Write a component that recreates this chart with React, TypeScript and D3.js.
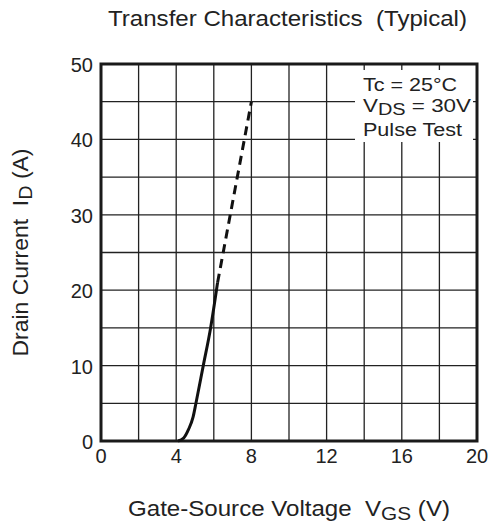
import React from "react";
import * as d3 from "d3";

const xTicks = [0, 4, 8, 12, 16, 20];
const yTicks = [0, 10, 20, 30, 40, 50];
const xGrid = [0, 2, 4, 6, 8, 10, 12, 14, 16, 18, 20];
const yGrid = [0, 5, 10, 15, 20, 25, 30, 35, 40, 45, 50];

const solidVgs = [4.1, 4.4, 4.65, 4.9, 5.05, 5.44, 5.83, 6.2];
const solidId = [0, 0.4, 1.5, 3.2, 5, 10, 15, 21];
const dashVgs = [6.2, 8.0];
const dashId = [21, 45];

const legendLines = ["Tc = 25°C", "VDS = 30V", "Pulse Test"];

const W = 489;
const H = 526;
const FONT = "'Liberation Sans', Arial, Helvetica, sans-serif";
const INK = "#222";

export default function App() {
  const x = d3.scaleLinear().domain([0, 20]).range([101, 477]);
  const y = d3.scaleLinear().domain([0, 50]).range([441, 64]);
  const line = d3
    .line<[number, number]>()
    .x((d) => x(d[0]))
    .y((d) => y(d[1]))
    .curve(d3.curveMonotoneX);
  const solid = solidVgs.map((v, i) => [v, solidId[i]] as [number, number]);
  const dashed = dashVgs.map((v, i) => [v, dashId[i]] as [number, number]);
  const lineStraight = d3
    .line<[number, number]>()
    .x((d) => x(d[0]))
    .y((d) => y(d[1]));

  return (
    <svg
      width={W}
      height={H}
      style={{ position: "absolute", left: 0, top: 0, background: "#fff" }}
      fontFamily={FONT}
    >
      <rect x={0} y={0} width={W} height={H} fill="#fff" />
      <text
        x={108}
        y={26}
        fontSize={22}
        fill={INK}
        textLength={359}
        lengthAdjust="spacingAndGlyphs"
        style={{ whiteSpace: "pre" }}
      >
        {"Transfer Characteristics  (Typical)"}
      </text>
      {xGrid.map((v) => (
        <line key={"gx" + v} x1={x(v)} x2={x(v)} y1={y(0)} y2={y(50)} stroke="#222" strokeWidth={1.3} />
      ))}
      {yGrid.map((v) => (
        <line key={"gy" + v} x1={x(0)} x2={x(20)} y1={y(v)} y2={y(v)} stroke="#222" strokeWidth={1.3} />
      ))}
      <rect x={355} y={70} width={118} height={72} fill="#fff" />
      <text x={363} y={91} fontSize={18} fill={INK} textLength={94} lengthAdjust="spacingAndGlyphs">
        {legendLines[0]}
      </text>
      <text x={363} y={112} fontSize={18} fill={INK} textLength={108} lengthAdjust="spacingAndGlyphs">
        V<tspan fontSize={16} dy={3}>DS</tspan>
        <tspan dy={-3}> = 30V</tspan>
      </text>
      <text x={363} y={136} fontSize={18} fill={INK} textLength={99} lengthAdjust="spacingAndGlyphs">
        {legendLines[2]}
      </text>
      <rect
        x={x(0)}
        y={y(50)}
        width={x(20) - x(0)}
        height={y(0) - y(50)}
        fill="none"
        stroke="#1a1a1a"
        strokeWidth={3}
      />
      <path d={line(solid) || ""} fill="none" stroke="#111" strokeWidth={3} />
      <path d={lineStraight(dashed) || ""} fill="none" stroke="#111" strokeWidth={3} strokeDasharray="9,6" />
      {yTicks.map((v) => (
        <text key={"yt" + v} x={93} y={y(v) + 8} textAnchor="end" fontSize={20} fill={INK}>
          {v}
        </text>
      ))}
      {xTicks.map((v) => (
        <text key={"xt" + v} x={x(v)} y={463} textAnchor="middle" fontSize={20} fill={INK}>
          {v}
        </text>
      ))}
      <text
        x={128}
        y={516}
        fontSize={22}
        fill={INK}
        textLength={322}
        lengthAdjust="spacingAndGlyphs"
        style={{ whiteSpace: "pre" }}
      >
        {"Gate-Source Voltage  V"}
        <tspan fontSize={19} dy={4}>GS</tspan>
        <tspan dy={-4}>{" (V)"}</tspan>
      </text>
      <g transform={`translate(28,${(y(0) + y(50)) / 2 + 104}) rotate(-90)`}>
        <text
          x={0}
          y={0}
          fontSize={22}
          fill={INK}
          textLength={208}
          lengthAdjust="spacingAndGlyphs"
          style={{ whiteSpace: "pre" }}
        >
          {"Drain Current  I"}
          <tspan fontSize={19} dy={4}>D</tspan>
          <tspan dy={-4}>{" (A)"}</tspan>
        </text>
      </g>
    </svg>
  );
}
